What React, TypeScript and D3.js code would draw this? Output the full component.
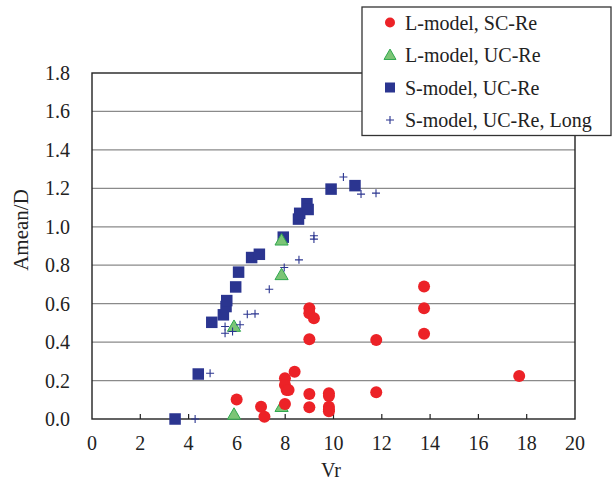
import React from "react";
import * as d3 from "d3";

// L-model, SC-Re (red circles)
const lscX = [5.99, 7.0, 7.14, 7.99, 7.99, 8.06, 8.14, 7.99, 8.39, 9.0, 9.0, 9.19, 9.0, 9.0, 9.0, 9.81, 9.81, 9.81, 9.81, 9.81, 11.77, 11.77, 13.75, 13.75, 13.75, 17.69];
const lscY = [0.102, 0.064, 0.012, 0.212, 0.177, 0.151, 0.151, 0.078, 0.246, 0.576, 0.55, 0.524, 0.415, 0.13, 0.061, 0.134, 0.12, 0.064, 0.05, 0.04, 0.411, 0.139, 0.689, 0.576, 0.443, 0.224];

// L-model, UC-Re (green triangles)
const lucX = [5.88, 5.88, 7.85, 7.85, 7.85];
const lucY = [0.024, 0.481, 0.75, 0.93, 0.064];

// S-model, UC-Re (navy squares)
const sucX = [3.44, 4.4, 4.96, 5.44, 5.55, 5.58, 5.95, 6.07, 6.61, 6.93, 7.92, 8.55, 8.6, 8.9, 8.95, 9.9, 10.89];
const sucY = [0.0, 0.234, 0.503, 0.542, 0.585, 0.616, 0.687, 0.764, 0.84, 0.857, 0.946, 1.04, 1.07, 1.12, 1.09, 1.196, 1.214];

// S-model, UC-Re, Long (navy crosses)
const longX = [4.27, 4.89, 5.51, 5.51, 5.82, 6.13, 6.43, 6.75, 7.34, 7.96, 8.57, 9.19, 9.19, 10.41, 11.14, 11.76];
const longY = [0.0, 0.238, 0.481, 0.446, 0.455, 0.49, 0.545, 0.547, 0.675, 0.788, 0.828, 0.953, 0.936, 1.259, 1.17, 1.175];

const xTicks = [0, 2, 4, 6, 8, 10, 12, 14, 16, 18, 20];
const yTicks = [0, 0.2, 0.4, 0.6, 0.8, 1.0, 1.2, 1.4, 1.6, 1.8];
const legendLabels = ["L-model, SC-Re", "L-model, UC-Re", "S-model, UC-Re", "S-model, UC-Re, Long"];

const RED = "#ec2227";
const GREEN_FILL = "#7cc576";
const GREEN_EDGE = "#2fa84f";
const NAVY = "#2b3590";
const FONT = "Liberation Serif, Times New Roman, serif";
const TEXT_STYLE = { fontFamily: FONT, fontSize: 20 };

const W = 614;
const H = 482;
const left = 92;
const right = 575;
const top = 73;
const bottom = 419;

export default function App() {
  const x = d3.scaleLinear().domain([0, 20]).range([left, right]);
  const y = d3.scaleLinear().domain([0, 1.8]).range([bottom, top]);

  const tri = d3.symbol().type(d3.symbolTriangle).size(75)() as string;
  const triLegend = d3.symbol().type(d3.symbolTriangle).size(62)() as string;

  const cross = (cx: number, cy: number, s: number, key: string) => (
    <path key={key} d={`M${cx - s},${cy}H${cx + s}M${cx},${cy - s}V${cy + s}`} stroke={NAVY} strokeWidth={1.1} fill="none" />
  );

  return (
    <svg width={W} height={H} style={{ position: "absolute", left: 0, top: 0, background: "#fff" }}>
      <rect x={0} y={0} width={W} height={H} fill="#fff" />
      {/* horizontal gridlines */}
      {yTicks.slice(1, -1).map((t) => (
        <line key={`g${t}`} x1={left} x2={right} y1={y(t)} y2={y(t)} stroke="#8a8a8a" strokeWidth={1.3} />
      ))}
      {/* plot frame */}
      <rect x={left} y={top} width={right - left} height={bottom - top} fill="none" stroke="#222" strokeWidth={1.4} />
      {/* x ticks point inward */}
      {xTicks.slice(1, -1).map((t) => (
        <line key={`xt${t}`} x1={x(t)} x2={x(t)} y1={bottom} y2={bottom - 5} stroke="#222" strokeWidth={1.2} />
      ))}
      {xTicks.map((t) => (
        <text key={`xl${t}`} x={x(t)} y={450} textAnchor="middle" style={TEXT_STYLE} fill="#222">{t}</text>
      ))}
      {yTicks.map((t) => (
        <text key={`yl${t}`} x={70} y={y(t) + 7} textAnchor="end" style={TEXT_STYLE} fill="#222">{t.toFixed(1)}</text>
      ))}
      <text x={331} y={477} textAnchor="middle" style={TEXT_STYLE} fill="#222">Vr</text>
      <text transform={`translate(28,230) rotate(-90)`} textAnchor="middle" style={{ ...TEXT_STYLE, fontSize: 21 }} fill="#222">Amean/D</text>

      {/* series */}
      {sucX.map((v, i) => (
        <rect key={`s${i}`} x={x(v) - 5.75} y={y(sucY[i]) - 5.75} width={11.5} height={11.5} fill={NAVY} />
      ))}
      {lucX.map((v, i) => (
        <path key={`t${i}`} d={tri} transform={`translate(${x(v)},${y(lucY[i]) + 1})`} fill={GREEN_FILL} stroke={GREEN_EDGE} strokeWidth={1} />
      ))}
      {longX.map((v, i) => cross(x(v), y(longY[i]), 4, `c${i}`))}
      {lscX.map((v, i) => (
        <circle key={`r${i}`} cx={x(v)} cy={y(lscY[i])} r={6} fill={RED} />
      ))}

      {/* legend */}
      <rect x={362} y={7} width={249} height={128.5} fill="#fff" stroke="#333" strokeWidth={1.3} />
      {legendLabels.map((lab, i) => {
        const cy = 22.5 + i * 32.5;
        let marker;
        if (i === 0) marker = <circle cx={390} cy={cy} r={5} fill={RED} />;
        else if (i === 1) marker = <path d={triLegend} transform={`translate(390,${cy + 1})`} fill={GREEN_FILL} stroke={GREEN_EDGE} strokeWidth={1} />;
        else if (i === 2) marker = <rect x={385} y={cy - 5} width={10} height={10} fill={NAVY} />;
        else marker = cross(390, cy, 4, "lc");
        return (
          <g key={lab}>
            {marker}
            <text x={405} y={cy + 7} style={TEXT_STYLE} fill="#222">{lab}</text>
          </g>
        );
      })}
    </svg>
  );
}
